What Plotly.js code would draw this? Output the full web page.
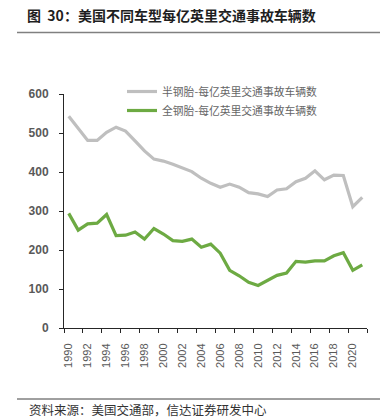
<!DOCTYPE html>
<html>
<head>
<meta charset="utf-8">
<script src="https://cdn.plot.ly/plotly-3.0.1.min.js"></script>
<style>html,body{margin:0;padding:0;background:#fff;}#chart{width:388px;height:420px;}</style>
</head>
<body>
<div id="chart"></div>
<script>
const years = [1990,1991,1992,1993,1994,1995,1996,1997,1998,1999,2000,2001,2002,2003,2004,2005,2006,2007,2008,2009,2010,2011,2012,2013,2014,2015,2016,2017,2018,2019,2020,2021];
const semiSteel = [543,511,481,481,502,515,505,480,454,433,428,420,410,401,384,371,361,369,361,347,344,337,354,357,375,384,403,380,392,391,311,335];
const allSteel = [294,251,267,269,291,237,238,246,228,255,241,224,222,228,207,215,192,148,134,117,109,121,135,141,171,169,172,172,185,193,148,162];
const seriesNames = ['半钢胎-每亿英里交通事故车辆数','全钢胎-每亿英里交通事故车辆数'];
const xTickLabels = ['1990','1992','1994','1996','1998','2000','2002','2004','2006','2008','2010','2012','2014','2016','2018','2020'];
const xTickVals = xTickLabels.map(Number);
const titleText = '图  30：美国不同车型每亿英里交通事故车辆数';
const sourceText = '资料来源：美国交通部，信达证券研发中心';

const FONT = '"Liberation Sans", Arial, "Noto Sans CJK SC", sans-serif';
const CJK = '"Noto Sans CJK SC", "Liberation Sans", sans-serif';

const traces = [
  {x: years, y: semiSteel, name: seriesNames[0], type: 'scatter', mode: 'lines',
   line: {color: '#BFBFBF', width: 3.2}},
  {x: years, y: allSteel, name: seriesNames[1], type: 'scatter', mode: 'lines',
   line: {color: '#6DAA43', width: 3.2}}
];

const L = 64, R = 367, T = 94, B = 328;
const W = 388, H = 420;
const px = v => (v - L) / (R - L);
const py = v => (B - v) / (B - T);

const layout = {
  width: W, height: H,
  margin: {l: L, r: W - R, t: T, b: H - B, pad: 0},
  paper_bgcolor: '#fff', plot_bgcolor: '#fff',
  showlegend: true,
  legend: {x: px(122), y: py(77), xanchor: 'left', yanchor: 'top',
    font: {family: CJK, size: 10.8, color: '#666666'}, bgcolor: 'rgba(0,0,0,0)',
    tracegroupgap: 0},
  title: {text: titleText, x: 27 / W, xanchor: 'left', xref: 'container',
    y: 1 - 16 / H, yanchor: 'middle', yref: 'container',
    font: {family: CJK, size: 14, color: '#1f1f1f', weight: 'bold'}},
  xaxis: {type: 'linear', range: [1989.5, 2021.5], tickvals: xTickVals, ticktext: xTickLabels,
    tickangle: -90, ticks: '', showgrid: false, zeroline: false,
    showline: true, linecolor: '#262626', linewidth: 1,
    tickfont: {family: FONT, size: 11, color: '#595959'}, ticklabelstandoff: 10,
    minor: {tick0: 1989.5, dtick: 2, ticks: 'outside', ticklen: 4, tickcolor: '#262626', tickwidth: 1, showgrid: false}},
  yaxis: {range: [0, 600], dtick: 100, ticks: 'outside', ticklen: 4, tickcolor: '#262626',
    showgrid: false, zeroline: false, showline: true, linecolor: '#262626', linewidth: 1,
    tickfont: {family: FONT, size: 12, color: '#595959', weight: 'bold'}, ticklabelstandoff: 8},
  shapes: [
    {type: 'line', xref: 'paper', yref: 'paper', x0: px(17), x1: px(380), y0: py(32.5), y1: py(32.5),
     line: {color: '#808080', width: 1.5}},
    {type: 'line', xref: 'paper', yref: 'paper', x0: px(17), x1: px(380), y0: py(399), y1: py(399),
     line: {color: '#404040', width: 1}}
  ],
  annotations: [
    {text: sourceText, xref: 'paper', yref: 'paper', x: px(27), y: py(409), xanchor: 'left', yanchor: 'middle',
     showarrow: false, font: {family: CJK, size: 12.5, color: '#333'}}
  ]
};

Plotly.newPlot('chart', traces, layout, {staticPlot: true, displayModeBar: false});
</script>
</body>
</html>
